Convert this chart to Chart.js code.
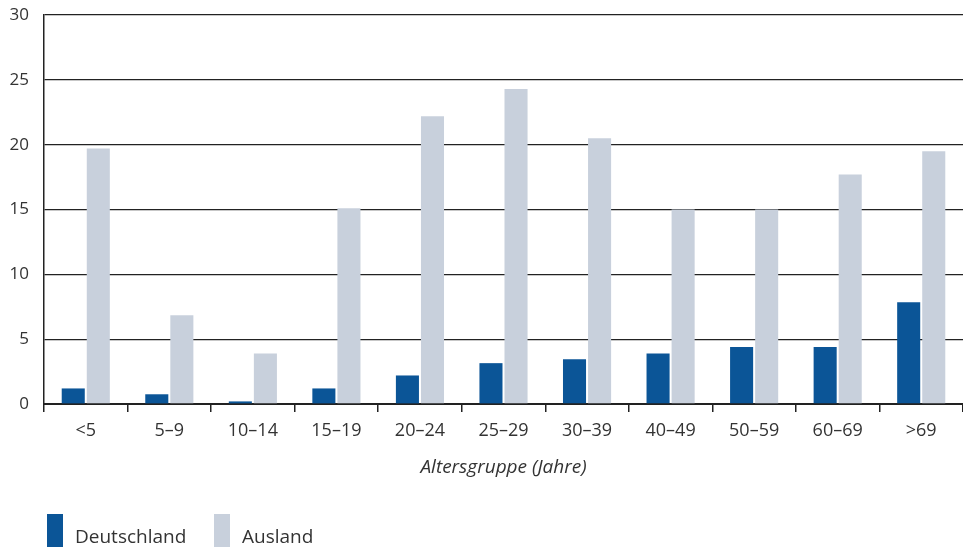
<!DOCTYPE html>
<html>
<head>
<meta charset="utf-8">
<script src="https://cdn.jsdelivr.net/npm/chart.js@4"></script>
<style>
  html, body { margin: 0; padding: 0; background: #fff; overflow: hidden; }
  #wrap { position: relative; width: 963px; height: 547px; }
  #legend { position: absolute; left: 0; top: 0; width: 963px; height: 547px; pointer-events: none;
            font-family: "Open Sans", sans-serif; font-size: 19px; color: #333; }
  .sw { position: absolute; width: 16px; height: 44px; }
  .lt { position: absolute; line-height: 22px; }
</style>
</head>
<body>
<div id="wrap">
  <canvas id="chartCanvas" width="963" height="547"></canvas>
  <div id="legend"></div>
</div>
<script>
// age groups
const categories = ['<5', '5–9', '10–14', '15–19', '20–24', '25–29', '30–39', '40–49', '50–59', '60–69', '>69'];
const deutschland = [1.2, 0.75, 0.2, 1.2, 2.2, 3.15, 3.45, 3.9, 4.4, 4.4, 7.85];
const ausland = [19.7, 6.85, 3.9, 15.1, 22.2, 24.3, 20.5, 15.0, 15.0, 17.7, 19.5];
const seriesNames = ['Deutschland', 'Ausland'];
const seriesColors = ['#0b5597', '#c8d0dc'];
const yTicks = [0, 5, 10, 15, 20, 25, 30];
const xTitle = 'Altersgruppe (Jahre)';

const txt = '#333';
const lineCol = '#222';
const font = "'Open Sans', sans-serif";

const ctx = document.getElementById('chartCanvas').getContext('2d');
new Chart(ctx, {
  type: 'bar',
  data: {
    labels: categories,
    datasets: [
      { label: seriesNames[0], data: deutschland, backgroundColor: seriesColors[0], categoryPercentage: 0.6, barPercentage: 0.92 },
      { label: seriesNames[1], data: ausland, backgroundColor: seriesColors[1], categoryPercentage: 0.6, barPercentage: 0.92 }
    ]
  },
  options: {
    responsive: false,
    animation: false,
    layout: { padding: { top: 15, right: 0, bottom: 63, left: 0 } },
    plugins: { legend: { display: false }, tooltip: { enabled: false } },
    scales: {
      x: {
        afterFit: s => { s.height = 80; s.paddingLeft = 0; s.paddingRight = 0; },
        grid: { offset: true, drawOnChartArea: false, drawTicks: true, tickLength: 8, color: lineCol, lineWidth: 1.5 },
        border: { display: true, color: lineCol, width: 2 },
        ticks: { color: txt, font: { family: font, size: 18 }, padding: 8 },
        title: { display: true, text: xTitle, color: txt, font: { family: font, size: 19, style: 'italic' }, padding: { top: 0, bottom: 5 } }
      },
      y: {
        min: 0, max: 30,
        afterFit: s => { s.width = 44; s.paddingTop = 0; s.paddingBottom = 0; },
        afterBuildTicks: s => { s.ticks = yTicks.map(v => ({ value: v })); },
        grid: { drawTicks: false, color: lineCol, lineWidth: 1.3 },
        border: { display: true, color: lineCol, width: 1.5 },
        ticks: { color: txt, font: { family: font, size: 17 }, padding: 15 }
      }
    }
  }
});

// legend
const lg = document.getElementById('legend');
const legX = [47, 214];
seriesNames.forEach((n, i) => {
  const sw = document.createElement('div');
  sw.className = 'sw';
  sw.style.left = legX[i] + 'px';
  sw.style.top = '514px';
  sw.style.background = seriesColors[i];
  lg.appendChild(sw);
  const t = document.createElement('div');
  t.className = 'lt';
  t.style.left = (legX[i] + 28) + 'px';
  t.style.top = '525px';
  t.textContent = n;
  lg.appendChild(t);
});
</script>
</body>
</html>
